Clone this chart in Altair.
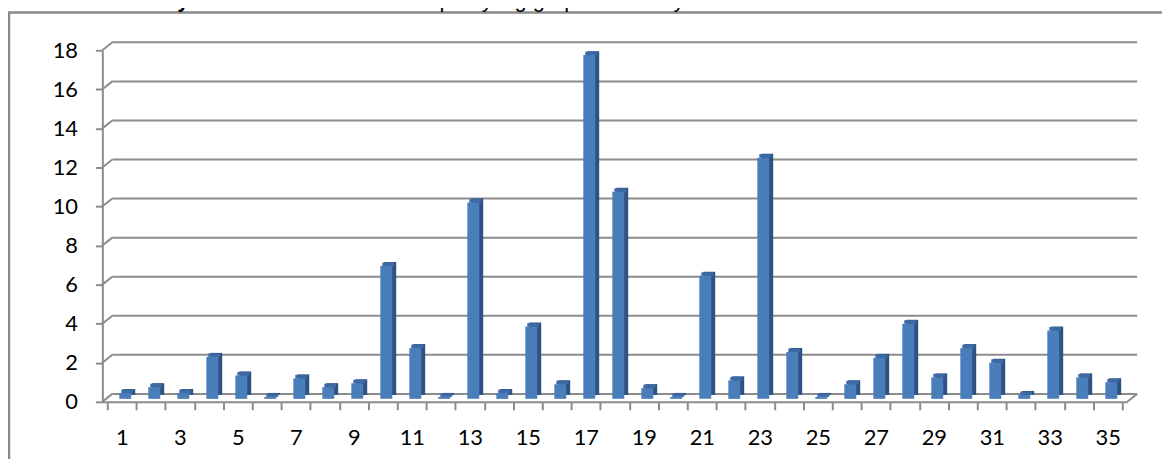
import altair as alt
import pandas as pd

# ---- data ----
categories = list(range(1, 36))
values = [0.3, 0.6, 0.3, 2.15, 1.2, 0.1, 1.05, 0.6, 0.8, 6.8,
          2.6, 0.1, 10.05, 0.3, 3.7, 0.75, 17.6, 10.6, 0.55, 0.1,
          6.3, 0.95, 12.35, 2.4, 0.1, 0.75, 2.1, 3.85, 1.1, 2.6,
          1.85, 0.2, 3.5, 1.1, 0.85]
y_ticks = [0, 2, 4, 6, 8, 10, 12, 14, 16, 18]
x_label_values = [1, 3, 5, 7, 9, 11, 13, 15, 17, 19, 21, 23, 25, 27, 29, 31, 33, 35]
x_tick_bounds = [c - 0.5 for c in categories] + [categories[-1] + 0.5]
title_bold = "Wykres 51"
title_rest = "Struktura ofert pracy wg grup zawodowych"

FRONT = "#4A7EBB"
SIDE = "#2E5283"
TOP = "#3D6AA6"
GRID = "#8C8C8C"
FONT = "Lato"

df = pd.DataFrame({"cat": categories, "val": values})
grid_df = pd.DataFrame({"val": y_ticks})
floor_df = pd.DataFrame({"val": y_ticks[:1]})
top_df = pd.DataFrame({"val": y_ticks[-1:]})
one = pd.DataFrame({"a": [0]})

xscale = alt.Scale(domain=[0.5, 35.5], nice=False, zero=False)
yscale = alt.Scale(domain=[0, 18], nice=False)

x_axis_values = sorted(x_tick_bounds + x_label_values)

x_axis = alt.Axis(
    values=x_axis_values,
    labelExpr="datum.value % 2 === 1 ? format(datum.value, 'd') : ''",
    tickOpacity={"condition": {"test": "datum.value % 1 === 0", "value": 0}, "value": 1},
    labelOverlap=False,
    tickSize=8, labelPadding=18, grid=False,
)
y_axis = alt.Axis(values=y_ticks, tickSize=7, labelPadding=18, grid=False)


def X():
    return alt.X("cat:Q", scale=xscale, title=None, axis=x_axis)


def Y():
    return alt.Y("val:Q", scale=yscale, title=None, axis=y_axis)


# outer frame (chart-area border)
frame_left = alt.Chart(one).mark_rule(color="#8A8A8A", strokeWidth=2.5).encode(
    x=alt.value(-94), x2=alt.value(-94), y=alt.value(-38), y2=alt.value(440))
# top border: anchored to the top gridline value, shifted up in pixels
frame_top = alt.Chart(top_df).mark_rule(color="#8A8A8A", strokeWidth=2.5, yOffset=-38).encode(
    y=Y(), x=alt.value(-95), x2=alt.value(1067))

# back wall gridlines
grid = alt.Chart(grid_df).mark_rule(color=GRID, strokeWidth=2, yOffset=-8).encode(
    y=Y(), x=alt.value(10), x2=alt.value(1042))
conn = alt.Chart(grid_df).mark_rule(color=GRID, strokeWidth=2, y2Offset=-8).encode(
    y=Y(), y2=alt.Y2("val:Q"), x=alt.value(0), x2=alt.value(10))
floor_end = alt.Chart(floor_df).mark_rule(color=GRID, strokeWidth=2, y2Offset=-8).encode(
    y=Y(), y2=alt.Y2("val:Q"), x=alt.value(1032), x2=alt.value(1042))

# 3D-ish bars
side = alt.Chart(df).mark_bar(width=12, color=SIDE, xOffset=7.5, yOffset=-7, y2Offset=-7).encode(
    x=X(), y=Y(), y2=alt.datum(0))
top = alt.Chart(df).mark_bar(width=12, color=TOP, xOffset=5.5, yOffset=-6.5, y2Offset=-3).encode(
    x=X(), y=Y(), y2=alt.Y2("val:Q"))
front = alt.Chart(df).mark_bar(width=12, color=FRONT, xOffset=3.5, yOffset=-3, y2Offset=-3).encode(
    x=X(), y=Y(), y2=alt.datum(0))

t1 = alt.Chart(one).mark_text(text=title_bold, font="Liberation Sans", fontSize=22,
                              fontWeight="bold", align="left", baseline="alphabetic",
                              color="#000000").encode(x=alt.value(55), y=alt.value(-43.5))
t2 = alt.Chart(one).mark_text(text=title_rest, font="Liberation Sans", fontSize=22,
                              align="left", baseline="alphabetic",
                              color="#000000").encode(x=alt.value(194), y=alt.value(-43.5))

chart = alt.layer(frame_left, frame_top, grid, conn, floor_end, side, top, front, t1, t2).properties(
    width=1032, height=354,
    padding={"left": 95, "top": 41, "right": 36, "bottom": 56},
    autosize=alt.AutoSizeParams(type="none"),
).configure_view(stroke=None).configure_axis(
    domainColor=GRID, domainWidth=2, tickColor=GRID, tickWidth=2,
    labelFont=FONT, labelFontSize=22, labelColor="#000000",
)

chart.save("out.html", embed_options={"renderer": "svg", "actions": False})
